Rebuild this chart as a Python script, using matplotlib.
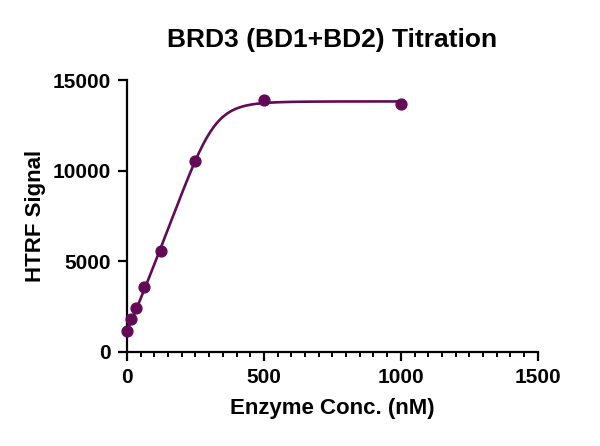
import matplotlib
matplotlib.use("Agg")
import matplotlib.pyplot as plt
import numpy as np
from matplotlib.ticker import MultipleLocator

# data
conc_nM = [0, 15.6, 31.25, 62.5, 125, 250, 500, 1000]
htrf_signal = [1180, 1840, 2440, 3600, 5570, 10550, 13900, 13680]

# asymmetric sigmoid (5PL) fit parameters, estimated from the drawn curve
fit_bottom = 1180
fit_top = 13820
fit_ec = 325
fit_hill = 7
fit_asym = 0.15

title = "BRD3 (BD1+BD2) Titration"
xlabel = "Enzyme Conc. (nM)"
ylabel = "HTRF Signal"
purple = "#620A58"

plt.rcParams['font.family'] = ['Liberation Sans', 'DejaVu Sans']
plt.rcParams['font.weight'] = 'bold'


def five_pl(x):
	x = np.asarray(x, dtype=float)
	with np.errstate(divide='ignore'):
		u = (1 + (fit_ec / x) ** fit_hill) ** (-fit_asym)
	return fit_bottom + (fit_top - fit_bottom) * u


xs = np.linspace(0, 1000, 600)
ys = five_pl(xs)

fig = plt.figure(figsize=(6, 4.46), dpi=100)
ax = fig.add_axes([0.2117, 0.2108, 0.6845, 0.6098])

ax.plot(xs, ys, color=purple, lw=1.9, zorder=2, clip_on=False)
ax.plot(conc_nM, htrf_signal, 'o', color=purple, ms=7.8, zorder=3, clip_on=False)

ax.set_xlim(0, 1500)
ax.set_ylim(0, 15000)
ax.xaxis.set_major_locator(MultipleLocator(500))
ax.xaxis.set_minor_locator(MultipleLocator(50))
ax.yaxis.set_major_locator(MultipleLocator(5000))

for s in ['top', 'right']:
	ax.spines[s].set_visible(False)
for s in ['left', 'bottom']:
	ax.spines[s].set_linewidth(1.6)

ax.tick_params(which='major', length=6.5, width=1.6, labelsize=15, pad=5)
ax.tick_params(which='minor', length=3.5, width=1.4)
for lbl in ax.get_xticklabels() + ax.get_yticklabels():
	lbl.set_fontweight('bold')

ax.set_xlabel(xlabel, fontsize=16, fontweight='bold', labelpad=8)
ax.set_ylabel(ylabel, fontsize=16, fontweight='bold', labelpad=5)
ax.set_title(title, fontsize=19, fontweight='bold', pad=24)

fig.savefig("out.png", dpi=100)
